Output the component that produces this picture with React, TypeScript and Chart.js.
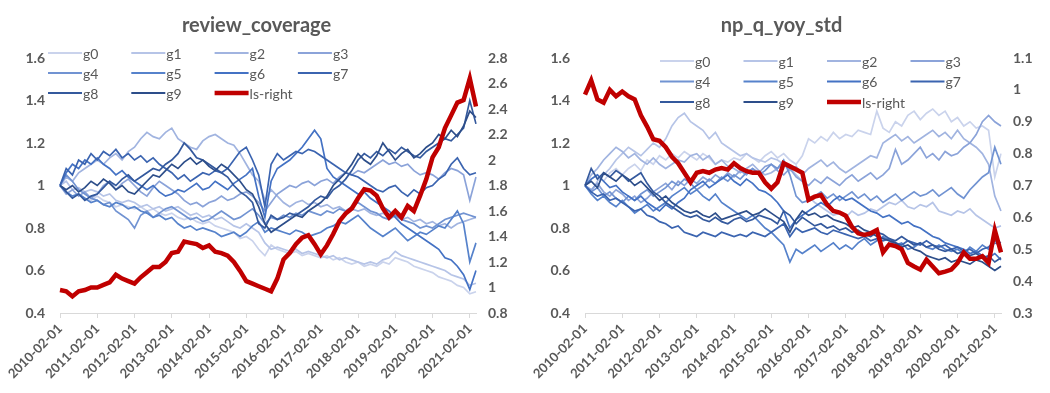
import React, { useEffect, useRef } from 'react';
import { Chart, registerables } from 'chart.js';
Chart.register(...registerables);

const dates = [
  '2010-02-01','2010-04-01','2010-06-01','2010-08-01','2010-10-01','2010-12-01',
  '2011-02-01','2011-04-01','2011-06-01','2011-08-01','2011-10-01','2011-12-01',
  '2012-02-01','2012-04-01','2012-06-01','2012-08-01','2012-10-01','2012-12-01',
  '2013-02-01','2013-04-01','2013-06-01','2013-08-01','2013-10-01','2013-12-01',
  '2014-02-01','2014-04-01','2014-06-01','2014-08-01','2014-10-01','2014-12-01',
  '2015-02-01','2015-04-01','2015-06-01','2015-08-01','2015-10-01','2015-12-01',
  '2016-02-01','2016-04-01','2016-06-01','2016-08-01','2016-10-01','2016-12-01',
  '2017-02-01','2017-04-01','2017-06-01','2017-08-01','2017-10-01','2017-12-01',
  '2018-02-01','2018-04-01','2018-06-01','2018-08-01','2018-10-01','2018-12-01',
  '2019-02-01','2019-04-01','2019-06-01','2019-08-01','2019-10-01','2019-12-01',
  '2020-02-01','2020-04-01','2020-06-01','2020-08-01','2020-10-01','2020-12-01',
  '2021-02-01','2021-04-01'
];

const groupNames = ['g0','g1','g2','g3','g4','g5','g6','g7','g8','g9'];
const lsName = 'ls-right';
const blueColors = ['#cad3ec','#b6c4e7','#a1b4e0','#8ba3d9','#7193d2','#5682cb','#4472c4','#3b64b0','#34599d','#2d4e8a'];
const redColor = '#c00000';

// ---------- review_coverage ----------
const rcTitle = 'review_coverage';
const rcG0 = [1.00,0.97,0.95,0.96,0.94,0.93, 0.95,0.93,0.92,0.90,0.91,0.90, 0.89,0.90,0.88,0.89,0.87,0.86, 0.87,0.85,0.84,0.85,0.83,0.82, 0.83,0.81,0.80,0.79,0.78,0.75, 0.76,0.74,0.70,0.67,0.72,0.70, 0.69,0.68,0.69,0.67,0.68,0.67, 0.66,0.67,0.65,0.66,0.64,0.63, 0.64,0.62,0.63,0.62,0.64,0.63, 0.66,0.65,0.64,0.62,0.61,0.60, 0.59,0.57,0.56,0.55,0.53,0.52, 0.49,0.50];
const rcG1 = [1.00,1.02,0.98,0.99,0.97,0.98, 0.97,0.95,0.96,0.93,0.92,0.93, 0.92,0.90,0.91,0.89,0.90,0.88, 0.89,0.90,0.88,0.86,0.87,0.85, 0.86,0.84,0.85,0.83,0.81,0.80, 0.82,0.80,0.78,0.73,0.70,0.71, 0.70,0.69,0.70,0.68,0.69,0.68, 0.67,0.66,0.67,0.65,0.66,0.65, 0.64,0.63,0.64,0.63,0.65,0.66, 0.69,0.67,0.66,0.65,0.64,0.63, 0.62,0.61,0.60,0.58,0.57,0.56, 0.53,0.54];
const rcG2 = [1.00,1.04,1.02,1.06,1.08,1.10, 1.12,1.10,1.13,1.15,1.12,1.16, 1.18,1.22,1.25,1.23,1.22,1.25, 1.27,1.22,1.20,1.18,1.17,1.21, 1.23,1.24,1.22,1.20,1.19,1.15, 1.10,1.05,1.02,0.93,0.98,0.95, 0.92,0.90,0.92,0.93,0.91,0.92, 0.90,0.91,0.89,0.90,0.88,0.89, 0.88,0.89,0.87,0.86,0.87,0.85, 0.86,0.84,0.85,0.83,0.84,0.82, 0.83,0.81,0.82,0.80,0.82,0.83, 0.84,0.85];
const rcG3 = [1.00,0.96,0.98,0.95,0.97,0.94, 0.96,1.00,1.02,0.98,1.01,1.03, 1.00,0.97,0.95,0.99,1.02,1.00, 0.98,0.96,0.93,0.91,0.92,0.90, 0.92,0.93,0.95,0.93,0.94,0.96, 0.97,0.95,0.92,0.88,0.92,0.96, 0.98,1.00,0.99,1.01,1.02,1.00, 1.02,1.03,1.01,1.04,1.06,1.05, 1.07,1.06,1.08,1.10,1.12,1.10, 1.11,1.09,1.10,1.07,1.05,1.06, 1.05,1.03,1.06,1.08,1.07,1.05, 0.93,1.04];
const rcG4 = [1.00,1.05,1.02,0.98,0.96,0.94, 0.93,0.91,0.92,0.88,0.86,0.84, 0.80,0.86,0.88,0.85,0.87,0.89, 0.90,0.88,0.86,0.84,0.85,0.83, 0.84,0.86,0.88,0.86,0.84,0.85, 0.87,0.89,0.86,0.82,0.85,0.84, 0.86,0.85,0.87,0.86,0.88,0.87, 0.86,0.88,0.87,0.89,0.88,0.90, 0.92,0.90,0.88,0.87,0.85,0.84, 0.86,0.84,0.83,0.82,0.80,0.81, 0.80,0.82,0.84,0.85,0.86,0.87, 0.86,0.85];
const rcG5 = [1.00,0.97,0.95,0.96,0.94,0.92, 0.93,0.91,0.90,0.92,0.91,0.89, 0.90,0.88,0.87,0.85,0.86,0.84, 0.85,0.82,0.80,0.81,0.79,0.80, 0.79,0.78,0.76,0.77,0.78,0.76, 0.78,0.81,0.83,0.78,0.80,0.79, 0.78,0.77,0.79,0.78,0.76,0.77, 0.78,0.80,0.81,0.83,0.82,0.84, 0.86,0.83,0.80,0.78,0.76,0.78, 0.80,0.77,0.74,0.76,0.78,0.77, 0.79,0.81,0.80,0.84,0.88,0.82, 0.64,0.73];
const rcG6 = [1.00,1.06,1.10,1.08,1.12,1.10, 1.13,1.10,1.08,1.05,1.07,1.04, 1.02,1.00,0.98,1.00,0.97,0.95, 0.96,0.98,0.97,0.99,1.01,0.98, 0.99,1.02,1.00,0.98,1.01,1.03, 1.05,1.08,0.95,0.85,1.02,1.08, 1.10,1.12,1.15,1.18,1.22,1.26, 1.22,1.08,1.04,1.02,1.00,0.98, 0.96,0.97,0.94,0.92,0.90,0.88, 0.85,0.82,0.80,0.78,0.76,0.74, 0.72,0.70,0.66,0.65,0.62,0.58, 0.51,0.60];
const rcG7 = [1.00,1.08,1.05,1.12,1.10,1.15, 1.12,1.16,1.14,1.17,1.13,1.15, 1.12,1.14,1.11,1.13,1.10,1.08, 1.06,1.03,1.05,1.02,1.04,1.06, 1.05,1.07,1.06,1.08,1.12,1.16, 1.18,1.12,1.05,0.90,1.10,1.15, 1.12,1.14,1.16,1.15,1.17,1.16, 1.14,1.12,1.10,1.08,1.06,1.05, 1.04,1.02,1.00,0.98,0.97,0.99, 1.00,0.97,0.95,0.98,0.96,0.99, 1.00,1.03,1.05,1.10,1.13,1.08, 1.05,1.06];
const rcG8 = [1.00,0.97,0.94,0.96,0.93,0.95, 0.96,0.99,1.02,1.00,1.03,1.05, 1.02,1.04,1.06,1.08,1.07,1.10, 1.12,1.15,1.20,1.17,1.13,1.12, 1.10,1.08,1.06,1.04,1.00,0.97, 0.95,0.92,0.82,0.80,0.86,0.84, 0.85,0.87,0.86,0.88,0.90,0.93, 0.95,0.94,0.98,1.00,1.03,1.07, 1.12,1.15,1.13,1.16,1.14,1.17, 1.15,1.18,1.16,1.14,1.13,1.16, 1.18,1.20,1.22,1.21,1.24,1.27, 1.40,1.29];
const rcG9 = [1.00,0.98,1.00,0.97,0.99,1.02, 1.00,1.03,1.01,0.98,1.00,0.97, 0.96,0.99,1.02,1.05,1.04,1.07, 1.10,1.08,1.11,1.13,1.10,1.12, 1.09,1.07,1.10,1.08,1.05,1.02, 0.98,0.96,0.90,0.82,0.78,0.80, 0.82,0.84,0.86,0.85,0.88,0.90, 0.92,0.95,1.00,1.03,1.06,1.10, 1.15,1.12,1.10,1.14,1.20,1.16, 1.12,1.15,1.17,1.13,1.15,1.18, 1.20,1.24,1.22,1.26,1.23,1.28, 1.35,1.32];
const rcLs = [0.98,0.97,0.93,0.97,0.98,1.00, 1.00,1.02,1.04,1.10,1.07,1.05, 1.03,1.08,1.12,1.16,1.16,1.20, 1.27,1.28,1.36,1.35,1.34,1.31, 1.33,1.28,1.27,1.25,1.20,1.13, 1.05,1.03,1.01,0.99,0.97,1.07, 1.22,1.27,1.34,1.39,1.41,1.34, 1.26,1.33,1.42,1.52,1.58,1.62, 1.70,1.77,1.76,1.72,1.62,1.55, 1.60,1.55,1.64,1.60,1.72,1.85, 2.02,2.10,2.25,2.35,2.45,2.47, 2.64,2.42];
const rcRightTicks = { min: 0.8, max: 2.8, step: 0.2 };

// ---------- np_q_yoy_std ----------
const npTitle = 'np_q_yoy_std';
const npG0 = [1.00,1.03,1.05,1.02,1.06,1.08, 1.05,1.08,1.10,1.07,1.12,1.10, 1.14,1.12,1.15,1.13,1.16,1.14, 1.12,1.15,1.13,1.10,1.12,1.11, 1.13,1.12,1.15,1.13,1.11,1.14, 1.16,1.13,1.15,1.12,1.10,1.14, 1.22,1.20,1.23,1.21,1.25,1.22, 1.24,1.23,1.26,1.25,1.24,1.35, 1.27,1.25,1.30,1.28,1.33,1.35, 1.31,1.34,1.36,1.33,1.35,1.30, 1.32,1.28,1.30,1.27,1.28,1.26, 1.04,1.15];
const npG1 = [1.00,0.97,1.02,1.05,1.08,1.12, 1.15,1.18,1.16,1.14,1.17,1.20, 1.18,1.22,1.28,1.32,1.34,1.30, 1.28,1.26,1.22,1.25,1.20,1.18, 1.16,1.14,1.15,1.13,1.12,1.11, 1.13,1.12,1.10,1.08,1.05,1.02, 0.95,0.92,0.90,0.88,0.86,0.87, 0.85,0.88,0.86,0.87,0.89,0.88, 0.90,0.92,0.91,0.93,0.90,0.89, 0.91,0.90,0.92,0.88,0.87,0.86, 0.88,0.87,0.89,0.86,0.84,0.82, 0.80,0.81];
const npG2 = [1.00,1.05,1.08,1.12,1.15,1.18, 1.16,1.13,1.15,1.12,1.10,1.13, 1.10,1.08,1.10,1.12,1.11,1.14, 1.15,1.12,1.14,1.10,1.12,1.09, 1.08,1.06,1.08,1.10,1.07,1.05, 1.06,1.08,1.10,1.07,1.09,1.05, 1.08,1.10,1.12,1.09,1.11,1.08, 1.06,1.08,1.10,1.12,1.14,1.13, 1.20,1.22,1.24,1.21,1.23,1.20, 1.22,1.24,1.26,1.23,1.25,1.22, 1.26,1.22,1.20,1.18,1.15,1.10, 0.95,0.88];
const npG3 = [1.00,0.98,1.01,0.97,0.95,0.98, 0.96,0.93,0.95,0.92,0.94,0.97, 0.99,1.01,0.98,1.02,1.00,1.03, 1.01,1.04,1.02,1.05,1.03,1.06, 1.04,1.07,1.05,1.08,1.06,1.09, 1.10,1.07,1.05,1.08,1.04,1.02, 1.00,1.03,1.01,1.04,1.02,1.00, 1.03,1.05,1.02,1.04,1.06,1.03, 1.05,1.08,1.17,1.10,1.12,1.15, 1.18,1.13,1.15,1.12,1.16,1.14, 1.15,1.18,1.20,1.24,1.30,1.33, 1.30,1.28];
const npG4 = [1.00,0.97,0.99,0.95,0.97,0.94, 0.92,0.95,0.93,0.96,0.98,0.95, 0.97,0.99,1.02,1.00,1.03,1.01, 0.98,1.00,1.03,1.01,1.04,1.02, 1.05,1.03,1.06,1.08,1.05,1.07, 1.10,1.08,1.12,1.05,0.95,0.92, 0.93,0.95,0.97,0.94,0.96,0.93, 0.95,0.97,0.94,0.96,0.93,0.95, 0.92,0.94,0.96,0.93,0.95,0.97, 0.95,0.96,0.98,0.95,0.97,0.99, 0.96,0.94,0.98,1.01,1.04,1.06, 1.18,1.10];
const npG5 = [1.00,0.96,0.93,0.95,0.92,0.90, 0.93,0.90,0.87,0.89,0.91,0.88, 0.90,0.92,0.95,0.97,0.99,0.96, 0.98,0.95,0.93,0.96,0.92,0.90, 0.88,0.86,0.84,0.86,0.83,0.80, 0.78,0.75,0.72,0.64,0.70,0.68, 0.70,0.72,0.69,0.71,0.73,0.70, 0.72,0.70,0.73,0.75,0.72,0.74, 0.76,0.74,0.72,0.73,0.70,0.71, 0.73,0.71,0.70,0.72,0.70,0.69, 0.70,0.68,0.71,0.69,0.72,0.70, 0.73,0.72];
const npG6 = [1.00,1.03,1.05,1.02,0.99,1.00, 0.97,0.95,0.93,0.95,0.92,0.90, 0.88,0.91,0.89,0.92,0.94,0.98, 1.00,1.02,0.99,1.01,1.03,1.05, 1.02,1.00,1.03,1.01,0.98,0.97, 0.95,0.92,0.88,0.80,0.84,0.86, 0.88,0.90,0.92,0.90,0.93,0.95, 0.93,0.94,0.92,0.90,0.88,0.87, 0.85,0.86,0.84,0.82,0.83,0.81, 0.80,0.78,0.76,0.75,0.73,0.72, 0.71,0.70,0.68,0.69,0.67,0.66, 0.68,0.65];
const npG7 = [1.00,0.97,0.95,0.96,0.93,0.94, 0.92,0.90,0.88,0.89,0.86,0.85, 0.83,0.82,0.80,0.81,0.78,0.77, 0.76,0.78,0.77,0.76,0.78,0.77, 0.76,0.77,0.76,0.78,0.77,0.76, 0.78,0.80,0.82,0.76,0.80,0.78, 0.79,0.80,0.78,0.77,0.79,0.78, 0.77,0.76,0.75,0.76,0.74,0.75, 0.74,0.75,0.73,0.72,0.74,0.73, 0.72,0.74,0.72,0.71,0.72,0.70, 0.71,0.69,0.70,0.68,0.70,0.71, 0.74,0.73];
const npG8 = [1.00,1.08,1.03,1.06,1.04,1.07, 1.05,1.02,1.04,1.06,1.01,0.97, 0.95,0.92,0.90,0.88,0.86,0.85, 0.86,0.84,0.83,0.85,0.83,0.82, 0.84,0.85,0.83,0.84,0.86,0.85, 0.84,0.82,0.88,0.86,0.82,0.85, 0.83,0.81,0.82,0.80,0.81,0.79, 0.80,0.78,0.79,0.77,0.76,0.78, 0.77,0.75,0.74,0.76,0.74,0.72, 0.73,0.71,0.72,0.70,0.69,0.70, 0.68,0.69,0.67,0.68,0.66,0.67, 0.64,0.66];
const npG9 = [1.00,1.02,0.99,1.06,1.04,1.02, 1.05,1.03,1.00,1.02,0.99,0.96, 0.93,0.95,0.92,0.90,0.88,0.87, 0.88,0.86,0.85,0.87,0.84,0.85, 0.86,0.87,0.88,0.86,0.87,0.89, 0.87,0.85,0.83,0.78,0.84,0.88, 0.86,0.87,0.85,0.86,0.84,0.83, 0.82,0.80,0.81,0.79,0.78,0.76, 0.75,0.74,0.73,0.71,0.72,0.70, 0.69,0.67,0.66,0.65,0.66,0.64, 0.65,0.64,0.63,0.65,0.64,0.62, 0.60,0.62];
const npLs = [0.985,1.03,0.97,0.96,1.00,0.98, 0.995,0.98,0.97,0.92,0.885,0.845, 0.84,0.82,0.79,0.77,0.74,0.71, 0.74,0.745,0.74,0.75,0.755,0.75, 0.77,0.755,0.745,0.74,0.74,0.71, 0.69,0.71,0.77,0.76,0.75,0.74, 0.655,0.665,0.67,0.64,0.62,0.615, 0.605,0.57,0.55,0.545,0.55,0.56, 0.49,0.515,0.51,0.50,0.457,0.446, 0.436,0.467,0.446,0.425,0.43,0.436, 0.457,0.49,0.47,0.47,0.478,0.457, 0.56,0.49];
const npRightTicks = { min: 0.3, max: 1.1, step: 0.1 };

const leftTicks = { min: 0.4, max: 1.6, step: 0.2 };

const FONT = 'Lato, "Open Sans", sans-serif';
const GRAY = '#595959';

const gridLegend = {
  id: 'gridLegend',
  afterDatasetsDraw(chart: any, _args: any, opts: any) {
    const ctx = chart.ctx;
    const items = opts.items as { label: string; color: string; width: number }[];
    items.forEach((it, i) => {
      const col = i % 4;
      const row = Math.floor(i / 4);
      const x = opts.x0 + col * opts.dx;
      const y = opts.y0 + row * opts.dy;
      ctx.save();
      ctx.strokeStyle = it.color;
      ctx.lineWidth = it.width;
      ctx.beginPath();
      ctx.moveTo(x, y);
      ctx.lineTo(x + 34, y);
      ctx.stroke();
      ctx.fillStyle = GRAY;
      ctx.font = '14px ' + FONT;
      ctx.textBaseline = 'middle';
      ctx.textAlign = 'left';
      ctx.fillText(it.label, x + 35, y + 1);
      ctx.restore();
    });
  },
};

const fmt = (v: any) => String(Math.round(Number(v) * 100) / 100);

function Panel(props: { title: string; blues: number[][]; ls: number[]; right: { min: number; max: number; step: number }; legend: { x0: number; y0: number; dx: number; dy: number } }) {
  const ref = useRef<HTMLCanvasElement>(null);
  useEffect(() => {
    const datasets: any[] = props.blues.map((d, i) => ({
      label: groupNames[i],
      data: d,
      borderColor: blueColors[i],
      backgroundColor: blueColors[i],
      borderWidth: 1.7,
      pointRadius: 0,
      tension: 0,
      yAxisID: 'y',
      order: 10 - i,
    }));
    datasets.push({
      label: lsName,
      data: props.ls,
      borderColor: redColor,
      backgroundColor: redColor,
      borderWidth: 4.5,
      pointRadius: 0,
      tension: 0,
      yAxisID: 'y1',
      order: -1,
    });
    const legendItems = datasets.map((d) => ({ label: d.label, color: d.borderColor, width: d.label === lsName ? 4.5 : 2 }));
    const chart = new Chart(ref.current as HTMLCanvasElement, {
      type: 'line',
      data: { labels: dates, datasets },
      plugins: [gridLegend as any],
      options: {
        responsive: false,
        animation: false,
        layout: { padding: { left: 0, right: 12, top: 0, bottom: 0 } },
        plugins: {
          legend: { display: false },
          tooltip: { enabled: false },
          title: {
            display: true,
            text: props.title,
            color: GRAY,
            font: { family: FONT, size: 20, weight: 'bold' },
            padding: { top: 14, bottom: 20 },
          },
          gridLegend: { items: legendItems, ...props.legend },
        } as any,
        scales: {
          x: {
            type: 'category',
            grid: {
              display: true,
              drawOnChartArea: false,
              drawTicks: true,
              tickLength: 5,
              color: (c: any) => (c.index % 6 === 0 ? '#d9d9d9' : 'rgba(0,0,0,0)'),
            },
            border: { display: true, color: '#d9d9d9', width: 1 },
            ticks: {
              autoSkip: false,
              minRotation: 45,
              maxRotation: 45,
              padding: 3,
              color: GRAY,
              font: { family: FONT, size: 13, weight: 'bold' },
              callback: (_v: any, i: number) => (i % 6 === 0 ? dates[i] : ''),
            },
            afterFit: (s: any) => { s.height = 80; },
          },
          y: {
            position: 'left',
            min: leftTicks.min,
            max: leftTicks.max,
            grid: { display: false, drawTicks: false },
            border: { display: false },
            ticks: {
              stepSize: leftTicks.step,
              padding: 15,
              color: GRAY,
              font: { family: FONT, size: 14, weight: 'bold' },
              callback: fmt,
            },
            afterFit: (s: any) => { s.width = 60; },
          },
          y1: {
            position: 'right',
            min: props.right.min,
            max: props.right.max,
            grid: { display: false, drawTicks: false },
            border: { display: false },
            ticks: {
              stepSize: props.right.step,
              padding: 12,
              color: GRAY,
              font: { family: FONT, size: 14, weight: 'bold' },
              callback: fmt,
            },
            afterFit: (s: any) => { s.width = 37; },
          },
        },
      } as any,
    });
    return () => chart.destroy();
  }, []);
  return <canvas ref={ref} width={525} height={393} style={{ display: 'block' }} />;
}

export default function App() {
  return (
    <div style={{ position: 'fixed', left: 0, top: 0, width: 1050, height: 393, background: '#fff', display: 'flex' }}>
      <Panel
        title={rcTitle}
        blues={[rcG0, rcG1, rcG2, rcG3, rcG4, rcG5, rcG6, rcG7, rcG8, rcG9]}
        ls={rcLs}
        right={rcRightTicks}
        legend={{ x0: 48, y0: 53, dx: 83.3, dy: 20 }}
      />
      <Panel
        title={npTitle}
        blues={[npG0, npG1, npG2, npG3, npG4, npG5, npG6, npG7, npG8, npG9]}
        ls={npLs}
        right={npRightTicks}
        legend={{ x0: 135, y0: 61, dx: 83.5, dy: 20.5 }}
      />
    </div>
  );
}
